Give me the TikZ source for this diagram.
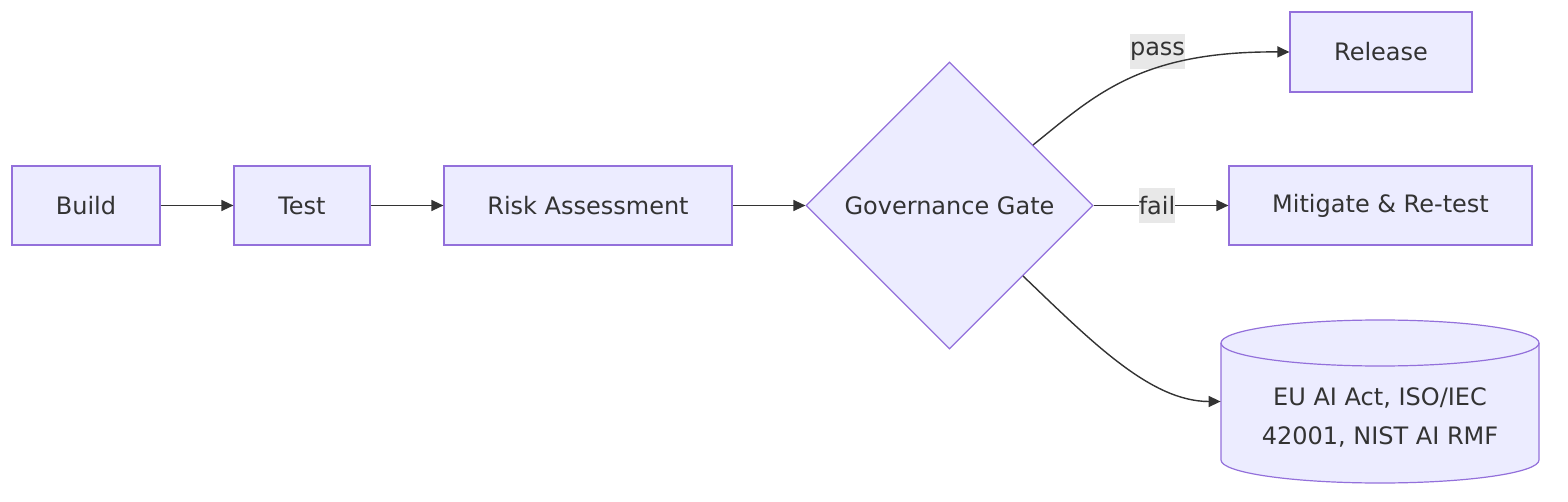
\documentclass[tikz,border=0pt]{standalone}
\usepackage{fontspec}
\setmainfont{DejaVu Sans}
\usetikzlibrary{shapes.geometric,arrows.meta}
\definecolor{nodefill}{HTML}{ECECFF}
\definecolor{nodeline}{HTML}{9370DB}
\definecolor{ink}{HTML}{333333}
\definecolor{lblbg}{HTML}{E8E8E8}
\tikzset{
  box/.style={draw=nodeline, fill=nodefill, line width=0.6pt, text=ink, inner sep=0pt, font=\fontsize{12}{14}\selectfont},
  gate/.style={diamond, aspect=1, draw=nodeline, fill=nodefill, line width=0.6pt, text=ink, inner sep=0pt, minimum size=143.5pt, font=\fontsize{12}{14}\selectfont},
  conn/.style={draw=ink, line width=0.7pt, -{Triangle[length=6pt,width=5.5pt]}},
  elabel/.style={fill=lblbg, text=ink, inner xsep=0pt, inner ysep=0pt, minimum height=17.5pt, font=\fontsize{12}{14}\selectfont},
}
\begin{document}
\begin{tikzpicture}[x=0.5pt, y=-0.5pt]
\useasboundingbox (0,0) rectangle (1568,502);
% nodes
\node[box, minimum width=74pt, minimum height=39.5pt] (build) at (86,205.5) {Build};
\node[box, minimum width=68pt, minimum height=39.5pt] (test) at (302,205.5) {Test};
\node[box, minimum width=144pt, minimum height=39.5pt] (risk) at (588,205.5) {Risk Assessment};
\node[gate] (gate) at (949.5,205.5) {Governance Gate};
\node[box, minimum width=91pt, minimum height=40pt] (release) at (1381,52) {Release};
\node[box, minimum width=151.5pt, minimum height=39.5pt] (mitigate) at (1380.5,205.5) {Mitigate \& Re-test};
% cylinder
\path[fill=nodefill, draw=nodeline, line width=0.6pt]
  (1221,343) -- (1221,460) arc[start angle=180, end angle=0, x radius=159, y radius=23]
  -- (1539,343) arc[start angle=0, end angle=-180, x radius=159, y radius=23] -- cycle;
\draw[draw=nodeline, line width=0.6pt] (1221,343) arc[start angle=180, end angle=0, x radius=159, y radius=23];
\node[inner sep=0pt, minimum width=159pt, minimum height=81.5pt] (db) at (1380,401.5) {};
\node[text=ink, align=center, inner sep=0pt, font=\fontsize{12}{19.5}\selectfont] (dbtext) at (1380,417) {EU AI Act, ISO/IEC\\42001, NIST AI RMF};
% connectors
\draw[conn] (build.east) -- (test.west);
\draw[conn] (test.east) -- (risk.west);
\draw[conn] (risk.east) -- (gate.west);
\coordinate (gpass) at (1033,145);
\coordinate (gdb) at (1023,276);
\node[elabel] (passlbl) at (1157.5,51.5) {pass};
\draw[conn] (gpass) .. controls (1095,95) and (1140,51) .. (release.west);
\draw[conn] (gate.east) -- (mitigate.west);
\node[elabel] (faillbl) at (1157,205.5) {fail};
\draw[conn] (gdb) .. controls (1090,340) and (1150,401.5) .. (db.west);
\end{tikzpicture}
\end{document}
